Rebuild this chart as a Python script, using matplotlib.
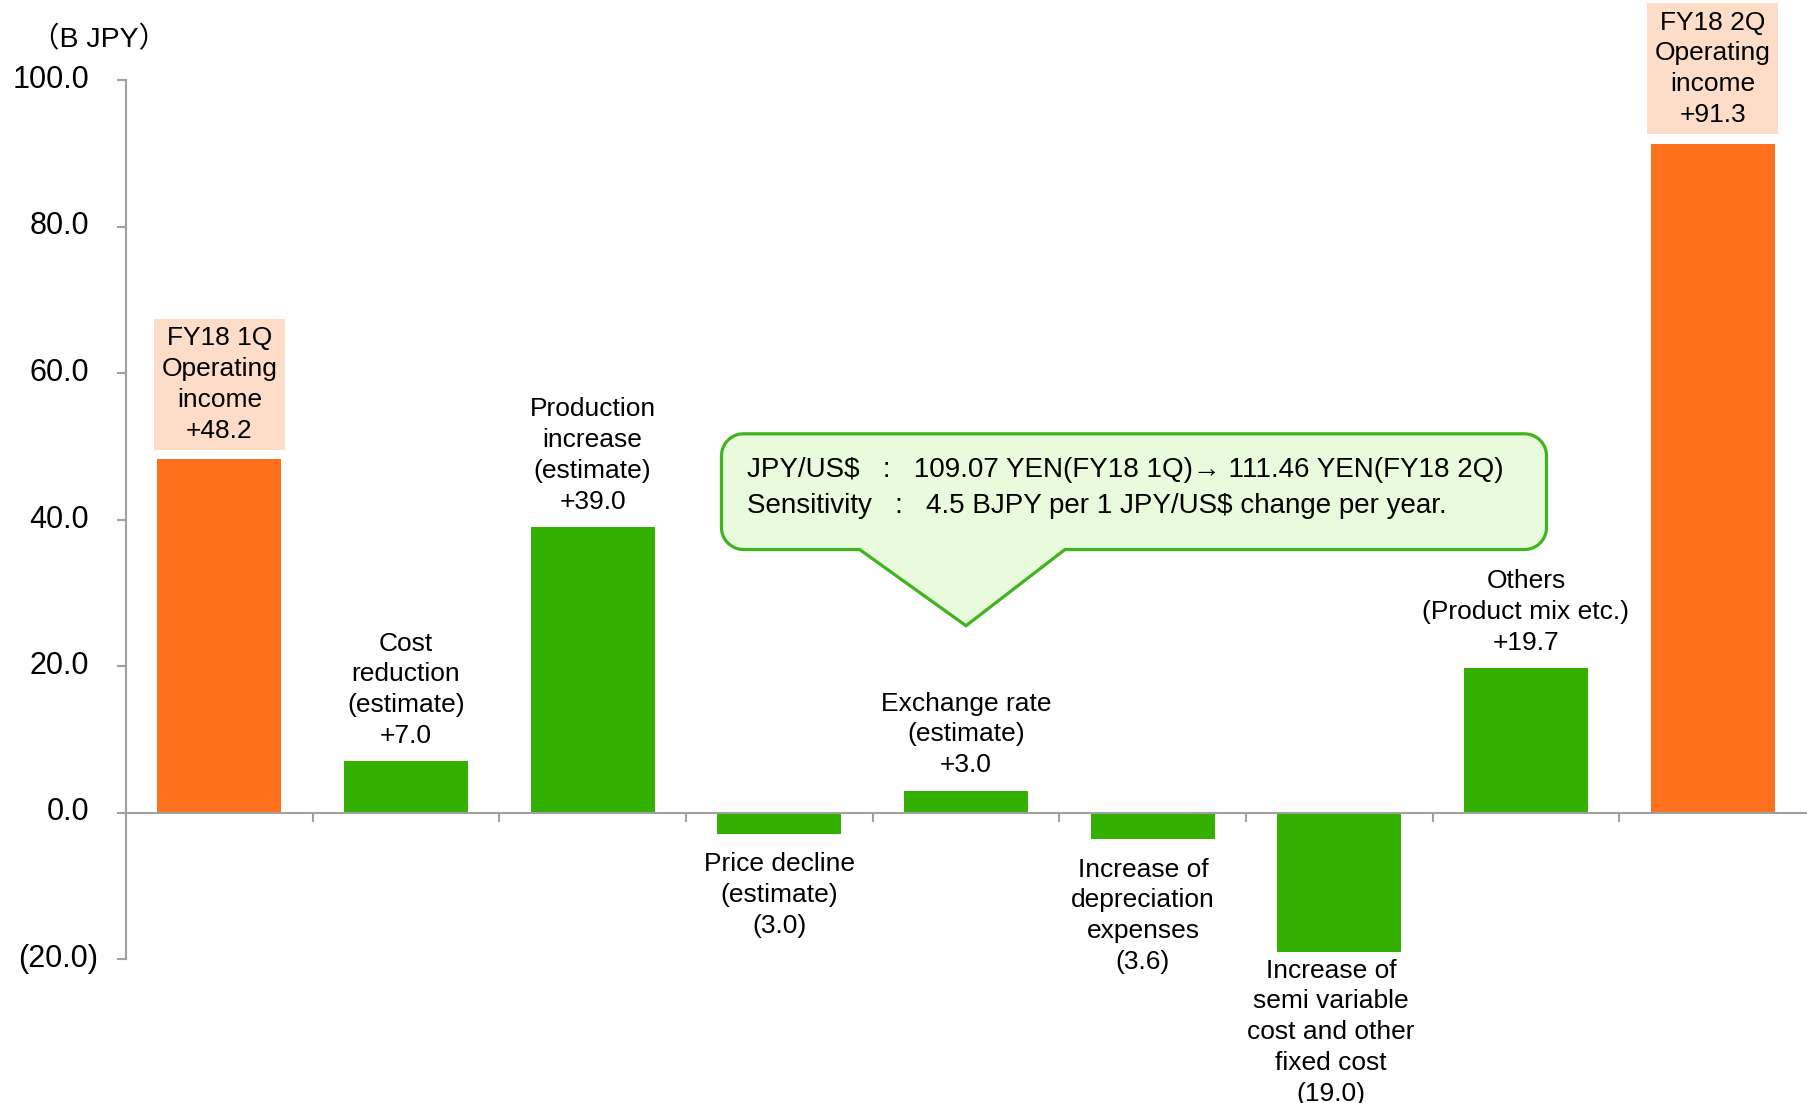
import numpy as np
import matplotlib.pyplot as plt
from matplotlib.path import Path
from matplotlib.patches import PathPatch
from matplotlib.transforms import IdentityTransform, offset_copy

plt.rcParams['font.family'] = ['Liberation Sans', 'DejaVu Sans', 'Noto Sans CJK JP']

# chart data
categories = ['FY18 1Q\nOperating\nincome', 'Cost\nreduction\n(estimate)', 'Production\nincrease\n(estimate)',
              'Price decline\n(estimate)', 'Exchange rate\n(estimate)', 'Increase of\ndepreciation\nexpenses',
              'Increase of\nsemi variable\ncost and other\nfixed cost', 'Others\n(Product mix etc.)',
              'FY18 2Q\nOperating\nincome']
values = [48.2, 7.0, 39.0, -3.0, 3.0, -3.6, -19.0, 19.7, 91.3]
is_total = [True, False, False, False, False, False, False, False, True]
yticks = [-20, 0, 20, 40, 60, 80, 100]
callout_lines = ['JPY/US$   :   109.07 YEN(FY18 1Q)\u2192 111.46 YEN(FY18 2Q)',
                 'Sensitivity   :   4.5 BJPY per 1 JPY/US$ change per year.']

ORANGE = '#FF711D'
GREEN = '#33B000'
PEACH = '#FDDCC8'
AXIS_GRAY = '#A0A0A0'

# label gap / shift (points) for each bar
label_gap = [12, 9.5, 9.5, 12.5, 9.5, 13.5, 5, 9.5, 12]
label_dx = [0, 0, 0, 0, 0, -7, -6, 0, 0]
LS = 1.36


def fmt(v):
    return f'({-v:.1f})' if v < 0 else f'{v:.1f}'


def fmt_delta(v):
    return f'({-v:.1f})' if v < 0 else f'+{v:.1f}'


fig = plt.figure(figsize=(18.08, 11.03), dpi=100)
ax = fig.add_axes([126 / 1808, 1 - 959 / 1103, 1680 / 1808, 879 / 1103])

x = np.arange(len(values))
colors = [ORANGE if t else GREEN for t in is_total]
ax.bar(x, values, width=0.665, color=colors, zorder=2)

ax.set_xlim(-0.5, len(values) - 0.5)
ax.set_ylim(-20, 100)

for s in ['top', 'right']:
    ax.spines[s].set_visible(False)
ax.spines['bottom'].set_position(('data', 0))
for s in ['left', 'bottom']:
    ax.spines[s].set_color(AXIS_GRAY)
    ax.spines[s].set_linewidth(1.5)

ax.set_xticks(x[:-1] + 0.5)
ax.set_xticklabels([])
ax.set_yticks(yticks)
ax.set_yticklabels([])
ax.tick_params(axis='both', direction='out', length=6.5, width=1.5, color=AXIS_GRAY)

# y tick labels, negatives in brackets hanging out to the right
for v in yticks:
    dx = -28 if v < 0 else -37
    tr = offset_copy(ax.get_yaxis_transform(), fig=fig, x=dx, y=0, units='dots')
    ax.text(0, v, fmt(v), transform=tr, ha='right', va='center', fontsize=22, clip_on=False)

fig.text(99 / 1808, 1 - 40 / 1103, '\uff08B JPY\uff09', ha='center', va='center', fontsize=20.5,
         family=['Liberation Sans', 'Noto Sans CJK JP'])

# bar labels
for i, (cat, v) in enumerate(zip(categories, values)):
    txt = cat + '\n' + fmt_delta(v)
    if is_total[i]:
        ax.annotate(txt, xy=(i, v), xytext=(label_dx[i], label_gap[i]), textcoords='offset points',
                    ha='center', va='bottom', fontsize=19, linespacing=LS,
                    bbox=dict(boxstyle='square,pad=0.28', fc=PEACH, ec='none'))
    elif v >= 0:
        ax.annotate(txt, xy=(i, v), xytext=(label_dx[i], label_gap[i]), textcoords='offset points',
                    ha='center', va='bottom', fontsize=19, linespacing=LS)
    else:
        ax.annotate(txt, xy=(i, v), xytext=(label_dx[i], -label_gap[i]), textcoords='offset points',
                    ha='center', va='top', fontsize=19, linespacing=LS)

# callout box with pointer to the exchange rate bar
L, B = ax.transData.transform((2.69, 35.9))
R, T = ax.transData.transform((7.11, 51.7))
tip = ax.transData.transform((4.0, 25.5))
b1 = ax.transData.transform((3.43, 35.9))[0]
b2 = ax.transData.transform((4.53, 35.9))[0]
r = 22


def arc(cx, cy, a0, a1):
    t = np.radians(np.linspace(a0, a1, 12))
    return list(zip(cx + r * np.cos(t), cy + r * np.sin(t)))


verts = [(L + r, T), (R - r, T)]
verts += arc(R - r, T - r, 90, 0)
verts += [(R, B + r)]
verts += arc(R - r, B + r, 0, -90)
verts += [(b2, B), tuple(tip), (b1, B), (L + r, B)]
verts += arc(L + r, B + r, -90, -180)
verts += [(L, T - r)]
verts += arc(L + r, T - r, 180, 90)
verts.append(verts[0])
codes = [Path.MOVETO] + [Path.LINETO] * (len(verts) - 2) + [Path.CLOSEPOLY]
callout = PathPatch(Path(verts, codes), transform=IdentityTransform(), facecolor='#E8FBDD',
                    edgecolor='#40B41C', lw=2.3, joinstyle='miter', zorder=3, clip_on=False)
ax.add_artist(callout)

ax.text(2.826, 46.8, callout_lines[0], ha='left', va='center', fontsize=20, zorder=4,
        parse_math=False, family=['Liberation Sans', 'DejaVu Sans'])
ax.text(2.826, 41.8, callout_lines[1], ha='left', va='center', fontsize=20, zorder=4,
        parse_math=False)

fig.savefig('out.png', dpi=100)
